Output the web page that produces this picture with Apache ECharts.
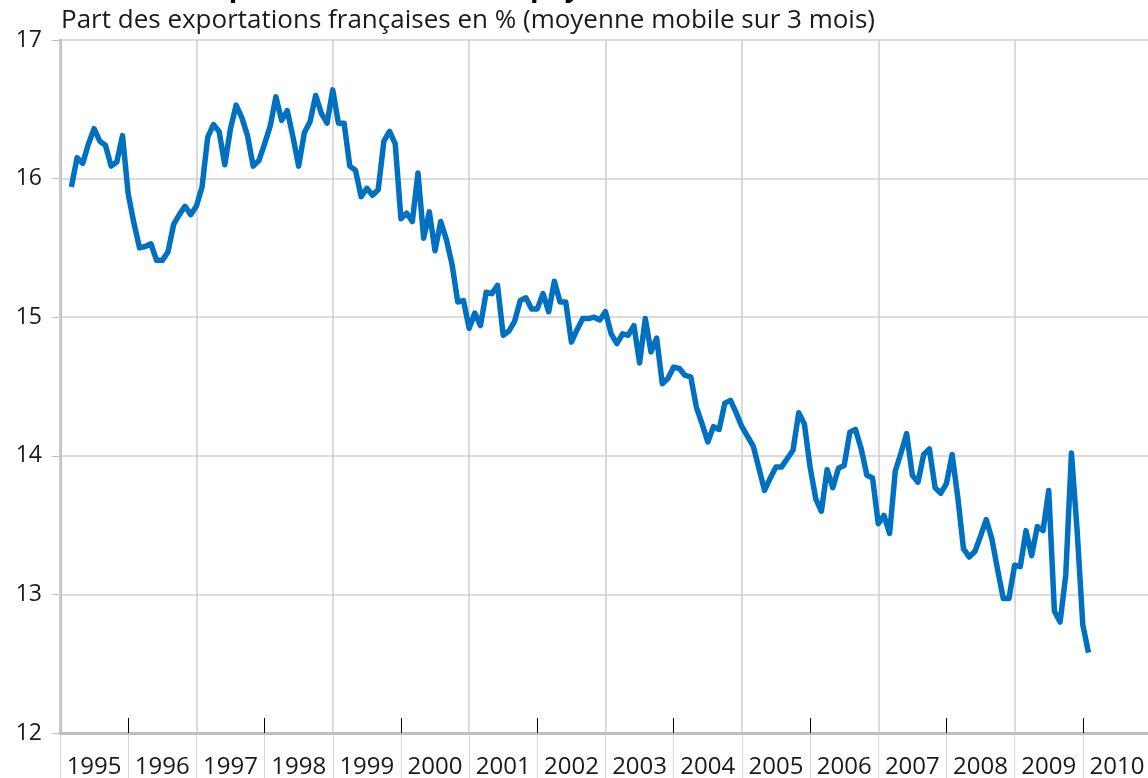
<!DOCTYPE html>
<html>
<head>
<meta charset="utf-8">
<script src="https://cdn.jsdelivr.net/npm/echarts@6/dist/echarts.min.js"></script>
<style>
  html, body { margin: 0; padding: 0; background: #fff; }
  #chart { width: 1148px; height: 778px; }
</style>
</head>
<body>
<div id="chart"></div>
<script>
// tick labels
const years = ['1995', '1996', '1997', '1998', '1999', '2000', '2001', '2002',
  '2003', '2004', '2005', '2006', '2007', '2008', '2009', '2010']
const yTicks = [12, 13, 14, 15, 16, 17]

// first month of the series (3-month moving average)
const firstMonth = '1995-03'

// share of French exports, %, one value per month from 1995-03 to 2010-02
const exportShare = [
  15.94, 16.15, 16.11, 16.25, 16.36, 16.27, 16.24, 16.09, 16.12, 16.31,
  15.89, 15.68, 15.50, 15.51, 15.53, 15.41, 15.41, 15.47, 15.67, 15.74,
  15.80, 15.74, 15.80, 15.94, 16.30, 16.39, 16.34, 16.10, 16.36, 16.53,
  16.44, 16.31, 16.09, 16.13, 16.25, 16.38, 16.59, 16.42, 16.49, 16.30,
  16.09, 16.33, 16.41, 16.60, 16.47, 16.40, 16.64, 16.40, 16.40, 16.09,
  16.06, 15.87, 15.93, 15.88, 15.92, 16.27, 16.34, 16.25, 15.71, 15.75,
  15.69, 16.04, 15.57, 15.76, 15.48, 15.69, 15.56, 15.38, 15.11, 15.12,
  14.92, 15.03, 14.94, 15.18, 15.17, 15.23, 14.87, 14.90, 14.97, 15.12,
  15.14, 15.06, 15.06, 15.17, 15.04, 15.26, 15.11, 15.11, 14.82, 14.91,
  14.99, 14.99, 15.00, 14.98, 15.04, 14.88, 14.81, 14.88, 14.87, 14.94,
  14.67, 14.99, 14.75, 14.85, 14.52, 14.56, 14.64, 14.63, 14.58, 14.57,
  14.35, 14.23, 14.10, 14.21, 14.19, 14.38, 14.40, 14.31, 14.21, 14.14,
  14.07, 13.91, 13.75, 13.84, 13.92, 13.92, 13.98, 14.04, 14.31, 14.23,
  13.92, 13.69, 13.60, 13.90, 13.77, 13.91, 13.93, 14.17, 14.19, 14.05,
  13.86, 13.84, 13.51, 13.57, 13.44, 13.89, 14.02, 14.16, 13.86, 13.81,
  14.01, 14.05, 13.77, 13.73, 13.80, 14.01, 13.70, 13.33, 13.27, 13.31,
  13.42, 13.54, 13.40, 13.18, 12.97, 12.97, 13.21, 13.20, 13.46, 13.28,
  13.49, 13.46, 13.75, 12.88, 12.80, 13.14, 14.02, 13.46, 12.78, 12.58
]

// month categories from 1995-01 to 2011-01 (points sit on the 1st of the month)
const months = []
years.forEach(y => {
  for (let m = 1; m <= 12; m++) {
    months.push(y + '-' + String(m).padStart(2, '0'))
  }
})
months.push('2011-01')

const start = months.indexOf(firstMonth)
const seriesData = months.map((m, i) => {
  const k = i - start
  return k >= 0 && k < exportShare.length ? exportShare[k] : null
})

const FONT = '"Open Sans", "Noto Sans", sans-serif'
const chart = echarts.init(document.getElementById('chart'))

chart.setOption({
  animation: false,
  textStyle: { fontFamily: FONT },
  title: [
    {
      // only the bottom of the heading is inside the picture
      text: 'La France a perdu face à tous ses pays voisins',
      left: 58,
      top: -31,
      textStyle: { fontFamily: FONT, fontSize: 28, fontWeight: 'bold', color: '#000' }
    },
    {
      text: 'Part des exportations françaises en % (moyenne mobile sur 3 mois)',
      left: 56,
      top: 3,
      textStyle: { fontFamily: FONT, fontSize: 26, fontWeight: 'normal', color: '#1a1a1a' }
    }
  ],
  grid: { left: 60, top: 40, width: 1091, height: 693, outerBoundsMode: 'none' },
  xAxis: [
    {
      type: 'category',
      data: months,
      boundaryGap: false,
      position: 'bottom',
      show: false
    },
    {
      type: 'category',
      data: years,
      position: 'bottom',
      boundaryGap: true,
      axisLine: { lineStyle: { color: '#bfbfbf', width: 3 } },
      axisTick: {
        show: true,
        inside: true,
        length: 15,
        interval: i => i % 2 === 1,
        lineStyle: { color: '#000', width: 1 }
      },
      axisLabel: { interval: 0, hideOverlap: false, fontSize: 24, color: '#1a1a1a', margin: 22 },
      splitLine: {
        show: true,
        interval: i => i % 2 === 0,
        lineStyle: { color: '#cfcfcf', width: 1.5 }
      },
      z: 3
    },
    {
      type: 'category',
      data: years,
      position: 'bottom',
      boundaryGap: true,
      axisLine: { show: false },
      axisTick: { show: true, length: 50, interval: 0, lineStyle: { color: '#d4d4d4', width: 1 } },
      axisLabel: { show: false },
      splitLine: { show: false }
    }
  ],
  yAxis: {
    type: 'value',
    min: yTicks[0],
    max: yTicks[yTicks.length - 1],
    interval: 1,
    axisLine: { show: true, lineStyle: { color: '#bfbfbf', width: 3 } },
    axisTick: { show: true, length: 8, lineStyle: { color: '#bfbfbf' } },
    axisLabel: { fontSize: 23, color: '#1a1a1a', margin: 18 },
    splitLine: { lineStyle: { color: '#cfcfcf', width: 1.5 } }
  },
  series: [
    {
      name: 'Part des exportations',
      type: 'line',
      xAxisIndex: 0,
      data: seriesData,
      showSymbol: false,
      lineStyle: { color: '#0070c0', width: 5.5, join: 'round' },
      z: 5
    }
  ]
})
</script>
</body>
</html>
